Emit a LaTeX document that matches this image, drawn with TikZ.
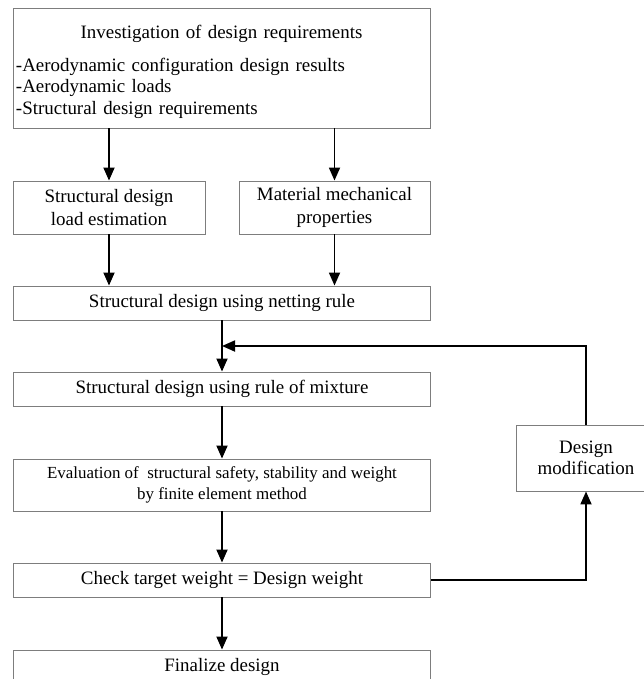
\documentclass[tikz,border=0pt]{standalone}
\usepackage{fontspec}
\setmainfont{Liberation Serif}
\usepackage{tikz}
\usetikzlibrary{arrows.meta,positioning,calc}
\definecolor{boxgray}{RGB}{125,125,125}
\tikzset{
    flowbox/.style={draw=boxgray, line width=0.9bp, rectangle, inner sep=2bp, align=center,
        font=\fontsize{19}{22.5}\selectfont},
    flowarrow/.style={draw=black, line width=1.8bp, -{Triangle[length=13bp,width=11bp]}}
}

\begin{document}
\begin{tikzpicture}[x=1bp, y=-1bp]
    \useasboundingbox (0,0) rectangle (644,679);
    % requirements
    \node[flowbox, minimum width=417bp, minimum height=120bp, text width=411bp, align=left,
        font=\fontsize{19}{21.5}\selectfont] (req) at (221.5,68) {
        \centering\rule{0pt}{21bp}Investigation of design requirements\par\vspace{11.5bp}
        \raggedright -Aerodynamic configuration design results\\
        -Aerodynamic loads\\
        -Structural design requirements};
    \node[flowbox, minimum width=192bp, minimum height=53bp] (load) at (109,207.5) {Structural design\\load estimation};
    \node[flowbox, minimum width=191bp, minimum height=53bp] (mat) at (334.5,207.5) {Material mechanical\\properties};
    % main column
    \node[flowbox, minimum width=417bp, minimum height=34bp] (net) at (222,303) {Structural design using netting rule};
    \node[flowbox, minimum width=417bp, minimum height=34bp] (mix) at (222,389) {Structural design using rule of mixture};
    \node[flowbox, minimum width=417bp, minimum height=52bp, font=\fontsize{17}{21}\selectfont] (fem) at (222,485) {Evaluation of \ structural safety, stability and weight\\by finite element method};
    \node[flowbox, minimum width=417bp, minimum height=34bp] (chk) at (222,580) {Check target weight = Design weight};
    \node[flowbox, minimum width=417bp, minimum height=34bp] (fin) at (222,667) {Finalize design};
    % loop
    \node[flowbox, minimum width=140bp, minimum height=66bp, font=\fontsize{19}{20.5}\selectfont] (mod) at (586,458) {Design\\modification};
    \coordinate (loopin) at ($(net.south)!0.5!(mix.north)$);

    \draw[flowarrow] (req.south -| load) -- (load.north);
    \draw[flowarrow] (req.south -| mat) -- (mat.north);
    \draw[flowarrow] (load.south) -- (load.south |- net.north);
    \draw[flowarrow] (mat.south) -- (mat.south |- net.north);
    \draw[flowarrow] (net.south) -- (mix.north);
    \draw[flowarrow] (mix.south) -- (fem.north);
    \draw[flowarrow] (fem.south) -- (chk.north);
    \draw[flowarrow] (chk.south) -- (fin.north);
    \draw[flowarrow] (chk.east) -| (mod.south);
    \draw[flowarrow] (mod.north) |- (loopin);
\end{tikzpicture}
\end{document}
